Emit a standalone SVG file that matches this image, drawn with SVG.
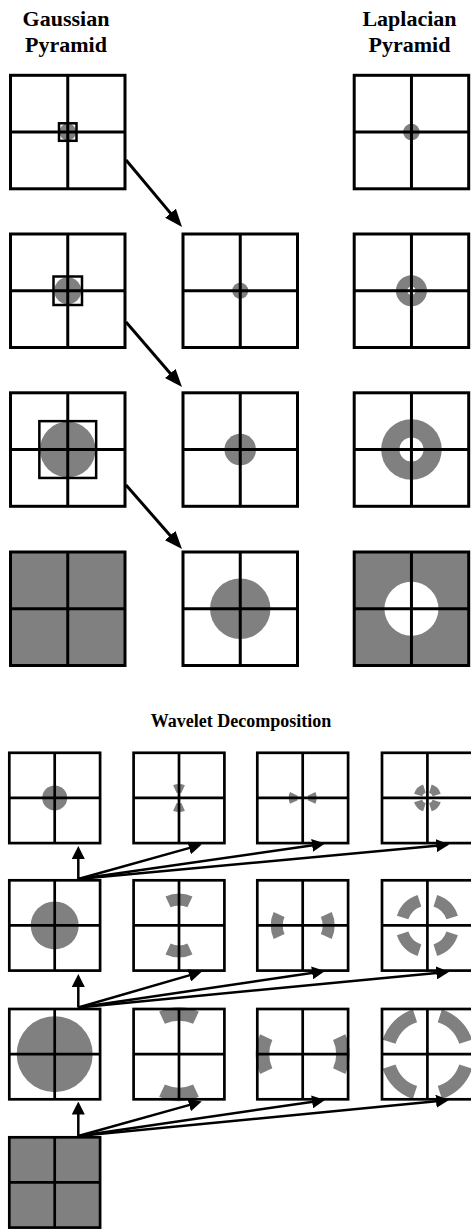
<svg xmlns="http://www.w3.org/2000/svg" xmlns:xlink="http://www.w3.org/1999/xlink" width="471" height="1230" viewBox="0 0 471 1230">
<style>
.t{font-family:"Liberation Serif","Times New Roman",serif;font-weight:bold;fill:#000;text-anchor:middle}
.h{font-size:22px}
.w{font-size:18px}
.gl{fill:none;stroke:#000;stroke-width:3}
.gs{fill:none;stroke:#000;stroke-width:2.7}
.g{fill:#808080}
.wh{fill:#fff}
.in{fill:none;stroke:#000;stroke-width:2.5}
.ring{fill:none;stroke:#808080}
.rv{stroke-dasharray:50 130;stroke-dashoffset:295}
.rh{stroke-dasharray:50 130;stroke-dashoffset:25}
.rd{stroke-dasharray:54 36;stroke-dashoffset:72}
.r1{stroke-width:8.5}
.r2{stroke-width:12}
.r3{stroke-width:13.5}
.a{stroke:#000;stroke-width:3;fill:none;marker-end:url(#ah)}
.wa{stroke:#000;stroke-width:2.5;fill:none;marker-end:url(#wah)}
</style>
<defs>
<marker id="ah" markerUnits="userSpaceOnUse" markerWidth="18" markerHeight="14" refX="12" refY="7" orient="auto"><path d="M0,0 L18,7 L0,14 z" fill="#000"/></marker>
<marker id="wah" markerUnits="userSpaceOnUse" markerWidth="13" markerHeight="13" refX="8" refY="6.5" orient="auto"><path d="M0,0 L13,6.5 L0,13 z" fill="#000"/></marker>
<g id="gridL" class="gl"><rect x="0" y="0" width="114.5" height="113.5"/><line x1="57.25" y1="0" x2="57.25" y2="113.5"/><line x1="0" y1="56.75" x2="114.5" y2="56.75"/></g>
<g id="gridS" class="gs"><rect x="0" y="0" width="90.8" height="90.3"/><line x1="45.4" y1="0" x2="45.4" y2="90.3"/><line x1="0" y1="45.15" x2="90.8" y2="45.15"/></g>
</defs>
<rect width="471" height="1230" fill="#fff"/>
<g id="titles">
<text class="t h" x="66" y="26">Gaussian</text>
<text class="t h" x="66" y="51.5">Pyramid</text>
<text class="t h" x="409.5" y="26">Laplacian</text>
<text class="t h" x="409.5" y="51.5">Pyramid</text>
<text class="t w" x="241" y="727">Wavelet Decomposition</text>
</g>
<g id="gauss-1"><circle class="g" cx="67.75" cy="132.05" r="8.5"/><use href="#gridL" x="10.5" y="75.3"/><rect class="in" x="59" y="123.3" width="17.5" height="17.5"/></g>
<g id="gauss-2"><circle class="g" cx="67.75" cy="290.75" r="13.5"/><use href="#gridL" x="10.5" y="234"/><rect class="in" x="53.5" y="276.5" width="28.5" height="28.5"/></g>
<g id="gauss-3"><circle class="g" cx="67.75" cy="449.55" r="27.8"/><use href="#gridL" x="10.5" y="392.8"/><rect class="in" x="39.35" y="421.15" width="56.8" height="56.8"/></g>
<g id="gauss-4"><rect class="g" x="10.5" y="552" width="114.5" height="113.5"/><use href="#gridL" x="10.5" y="552"/></g>
<g id="mid-2"><circle class="g" cx="240.25" cy="290.75" r="8"/><use href="#gridL" x="183" y="234"/></g>
<g id="mid-3"><circle class="g" cx="240.25" cy="449.55" r="15.8"/><use href="#gridL" x="183" y="392.8"/></g>
<g id="mid-4"><circle class="g" cx="240.25" cy="608.75" r="30.2"/><use href="#gridL" x="183" y="552"/></g>
<g id="lap-1"><circle class="g" cx="411.45" cy="132.05" r="8.3"/><use href="#gridL" x="354.2" y="75.3"/></g>
<g id="lap-2"><circle class="g" cx="411.45" cy="290.75" r="15.5"/><circle class="wh" cx="411.45" cy="290.75" r="4"/><use href="#gridL" x="354.2" y="234"/></g>
<g id="lap-3"><circle class="g" cx="411.45" cy="449.55" r="30.3"/><circle class="wh" cx="411.45" cy="449.55" r="12"/><use href="#gridL" x="354.2" y="392.8"/></g>
<g id="lap-4"><rect class="g" x="354.2" y="552" width="114.5" height="113.5"/><circle class="wh" cx="411.45" cy="608.75" r="27"/><use href="#gridL" x="354.2" y="552"/></g>
<g id="w-1-1"><circle class="g" cx="54.7" cy="797.95" r="12.5"/><use href="#gridS" x="9.3" y="752.8"/></g>
<g id="w-1-2"><circle class="ring r1 rv" pathLength="360" cx="179" cy="797.95" r="9.75"/><use href="#gridS" x="133.6" y="752.8"/></g>
<g id="w-1-3"><circle class="ring r1 rh" pathLength="360" cx="302.7" cy="797.95" r="9.75"/><use href="#gridS" x="257.3" y="752.8"/></g>
<g id="w-1-4"><circle class="ring r1 rd" pathLength="360" cx="427.4" cy="797.95" r="9.75"/><use href="#gridS" x="382" y="752.8"/></g>
<g id="w-2-1"><circle class="g" cx="54.7" cy="925.45" r="24"/><use href="#gridS" x="9.3" y="880.3"/></g>
<g id="w-2-2"><circle class="ring r2 rv" pathLength="360" cx="179" cy="925.45" r="26"/><use href="#gridS" x="133.6" y="880.3"/></g>
<g id="w-2-3"><circle class="ring r2 rh" pathLength="360" cx="302.7" cy="925.45" r="26"/><use href="#gridS" x="257.3" y="880.3"/></g>
<g id="w-2-4"><circle class="ring r2 rd" pathLength="360" cx="427.4" cy="925.45" r="26"/><use href="#gridS" x="382" y="880.3"/></g>
<g id="w-3-1"><circle class="g" cx="54.7" cy="1054.15" r="38"/><use href="#gridS" x="9.3" y="1009"/></g>
<g id="w-3-2"><circle class="ring r3 rv" pathLength="360" cx="179" cy="1054.15" r="40.25"/><use href="#gridS" x="133.6" y="1009"/></g>
<g id="w-3-3"><circle class="ring r3 rh" pathLength="360" cx="302.7" cy="1054.15" r="40.25"/><use href="#gridS" x="257.3" y="1009"/></g>
<g id="w-3-4"><circle class="ring r3 rd" pathLength="360" cx="427.4" cy="1054.15" r="40.25"/><use href="#gridS" x="382" y="1009"/></g>
<g id="w-4-1"><rect class="g" x="9.3" y="1137.3" width="90.8" height="90.3"/><use href="#gridS" x="9.3" y="1137.3"/></g>
<g id="connectors">
<line class="a" x1="126" y1="160" x2="178.2" y2="222.4"/>
<line class="a" x1="126" y1="322" x2="178.1" y2="382.5"/>
<line class="a" x1="126" y1="485" x2="178.05" y2="544.5"/>
<line class="wa" x1="78.3" y1="879" x2="78.3" y2="851"/>
<line class="wa" x1="78.3" y1="879" x2="196.9" y2="845.85"/>
<line class="wa" x1="78.3" y1="879" x2="320.05" y2="844.2"/>
<line class="wa" x1="78.3" y1="879" x2="444.3" y2="844.96"/>
<line class="wa" x1="78.3" y1="1007.5" x2="78.3" y2="979"/>
<line class="wa" x1="78.3" y1="1007.5" x2="196.9" y2="973.1"/>
<line class="wa" x1="78.3" y1="1007.5" x2="320.05" y2="971.7"/>
<line class="wa" x1="78.3" y1="1007.5" x2="444.3" y2="972.2"/>
<line class="wa" x1="78.3" y1="1136" x2="78.3" y2="1106.5"/>
<line class="wa" x1="78.3" y1="1136" x2="196.9" y2="1102.85"/>
<line class="wa" x1="78.3" y1="1136" x2="320.05" y2="1100.7"/>
<line class="wa" x1="78.3" y1="1136" x2="444" y2="1100.5"/>
</g>
</svg>
